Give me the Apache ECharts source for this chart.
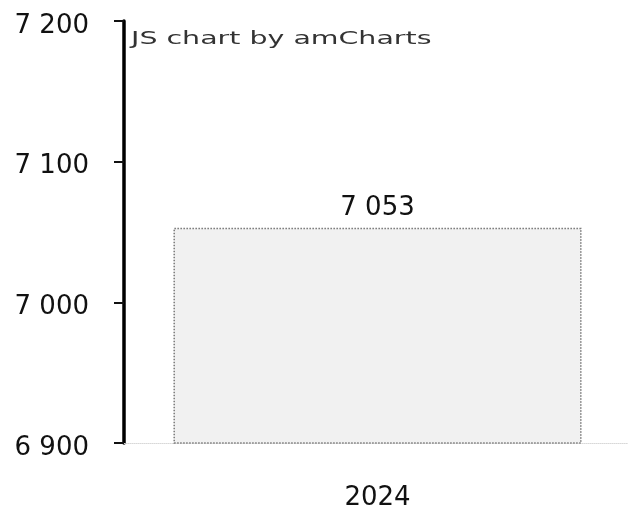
<!DOCTYPE html>
<html>
<head>
<meta charset="utf-8">
<script src="https://cdn.jsdelivr.net/npm/echarts@6/dist/echarts.min.js"></script>
<style>
  html, body { margin: 0; padding: 0; background: #fff; }
</style>
</head>
<body>
<div id="main" style="width: 628px; height: 506px"></div>
<script>
// data
const years = ['2024'];
const values = [7053];
const yTicks = [6900, 7000, 7100, 7200];

// 7200 -> "7 200"
function fmt(v) {
  return String(v).replace(/\B(?=(\d{3})+(?!\d))/g, ' ');
}

const myChart = echarts.init(document.getElementById('main'));
const option = {
  animation: false,
  textStyle: { fontFamily: 'DejaVu Sans' },
  graphic: [{
    type: 'text',
    left: 131,
    top: 30,
    scaleX: 1.58,
    style: {
      text: 'JS chart by amCharts',
      font: '18px DejaVu Sans',
      fill: '#333'
    }
  }],
  grid: { left: 124, right: -3, top: 21, bottom: 63, outerBoundsMode: 'none', containLabel: false },
  xAxis: {
    type: 'category',
    data: years,
    axisLine: { lineStyle: { color: '#d8d8d8', width: 1, type: 'dotted' } },
    axisTick: { alignWithLabel: true, length: 9, lineStyle: { color: '#444', width: 1 } },
    axisLabel: { fontSize: 26, color: '#111', margin: 42 }
  },
  yAxis: {
    type: 'value',
    min: yTicks[0],
    max: yTicks[yTicks.length - 1],
    interval: 100,
    splitLine: { show: false },
    axisLine: { show: true, lineStyle: { color: '#000', width: 3.5 } },
    axisTick: { show: true, length: 10, lineStyle: { color: '#111', width: 2 } },
    axisLabel: {
      margin: 35,
      formatter: function (v) { return '{t|' + fmt(v) + '}'; },
      rich: {
        t: { fontSize: 26, color: '#111', fontFamily: 'DejaVu Sans', padding: [10, 0, 0, 0] }
      }
    }
  },
  series: [{
    type: 'bar',
    data: values,
    barWidth: '80.5%',
    itemStyle: {
      color: '#f1f1f1',
      borderColor: '#777',
      borderWidth: 1.5,
      borderType: 'dotted'
    },
    label: {
      show: true,
      position: 'top',
      distance: 7,
      fontSize: 26,
      color: '#111',
      formatter: function (p) { return fmt(p.value); }
    }
  }]
};
myChart.setOption(option);
</script>
</body>
</html>
